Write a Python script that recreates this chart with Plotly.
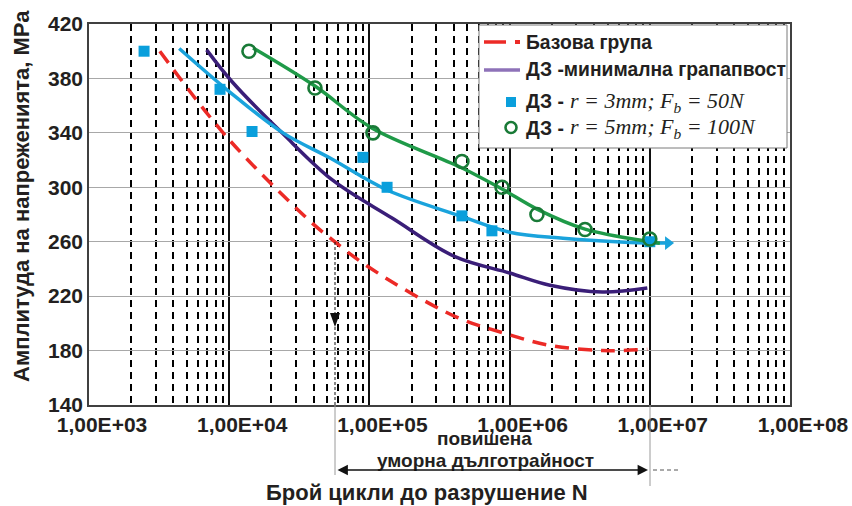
import plotly.graph_objects as go

# ---------------- data ----------------
x_tick_vals = [1e3, 1e4, 1e5, 1e6, 1e7, 1e8]
x_tick_text = ["1,00E+03", "1,00E+04", "1,00E+05", "1,00E+06", "1,00E+07", "1,00E+08"]
y_tick_vals = [140, 180, 220, 260, 300, 340, 380, 420]

# Базова група (red dashed curve)
base_N = [3200, 9600, 36000, 52000, 100000, 410000, 900000, 1.9e6, 4.6e6, 9.6e6]
base_S = [400, 337, 277, 263, 241, 205, 193, 184, 180, 181]

# ДЗ - минимална грапавост (purple curve)
min_N = [6900, 10600, 23800, 55000, 147000, 408000, 1.0e6, 1.94e6, 4.6e6, 9.6e6]
min_S = [401, 377, 340, 305, 277, 249, 237, 228, 223, 226]

# ДЗ r=3mm, Fb=50N  (blue squares + fitted curve)
r3_pts_N = [2470, 8600, 14550, 89900, 133700, 457000, 748000, 1.0e7]
r3_pts_S = [400, 372, 341, 322, 300, 279, 268, 260]
r3_fit_N = [4400, 10100, 24200, 52400, 133700, 443000, 1.0e6, 2.4e6, 7.2e6, 1.35e7]
r3_fit_S = [402, 370, 340, 321.5, 298, 279, 267, 262.5, 259.5, 259]

# ДЗ r=5mm, Fb=100N (green circles + fitted curve)
r5_pts_N = [13830, 40900, 106000, 457000, 883000, 1.567e6, 3.45e6, 1.0e7]
r5_pts_S = [400, 373, 340, 319, 300, 280, 269, 262]
r5_fit_N = [14800, 40900, 104000, 443000, 883000, 1.567e6, 3.45e6, 1.0e7, 1.18e7]
r5_fit_S = [402.4, 374.4, 343.6, 314.9, 298.7, 284.0, 269.3, 260.0, 258.9]

# ---------------- styles ----------------
RED = "#ec2a26"
PURPLE = "#3a1e78"
PURPLE_LEG = "#8e72b8"
BLUE = "#1aa3dc"
BLUE_M = "#0a9fdc"
GREEN = "#1f9a48"
GREEN_M = "#197a37"
SANS = "Liberation Sans, Arial, sans-serif"
SERIF = "Liberation Serif, Times New Roman, serif"

W, H = 852, 506
L, R, T, B = 89, 790, 24, 405


def px(x):
    return (x - L) / (R - L)


def py(y):
    return (B - y) / (B - T)


fig = go.Figure()

fig.add_trace(go.Scatter(x=base_N, y=base_S, mode="lines", line=dict(color=RED, width=3.5, dash="14px,9px", shape="spline"), showlegend=False))
fig.add_trace(go.Scatter(x=min_N, y=min_S, mode="lines", line=dict(color=PURPLE, width=3.5, shape="spline"), showlegend=False))
fig.add_trace(go.Scatter(x=r3_fit_N, y=r3_fit_S, mode="lines", line=dict(color=BLUE, width=3.5, shape="spline"), showlegend=False))
fig.add_trace(go.Scatter(x=r3_fit_N[-1:], y=r3_fit_S[-1:], mode="markers",
                         marker=dict(symbol="triangle-right", size=12, color=BLUE), showlegend=False))
fig.add_trace(go.Scatter(x=r5_fit_N, y=r5_fit_S, mode="lines", line=dict(color=GREEN, width=3.5, shape="spline"), showlegend=False))
fig.add_trace(go.Scatter(x=r3_pts_N, y=r3_pts_S, mode="markers",
                         marker=dict(symbol="square", size=11, color=BLUE_M), showlegend=False))
fig.add_trace(go.Scatter(x=r5_pts_N, y=r5_pts_S, mode="markers",
                         marker=dict(symbol="circle-open", size=13, color=GREEN_M, line=dict(width=2.6, color=GREEN_M)),
                         showlegend=False))

minor_vals = [k * 10 ** e for e in range(3, 8) for k in range(2, 10)]

fig.update_xaxes(
    type="log", range=[3, 8], tickvals=x_tick_vals, ticktext=x_tick_text, automargin=False,
    showgrid=True, gridcolor="#111111", gridwidth=1.6,
    minor=dict(tickvals=minor_vals, showgrid=True, gridcolor="#000000", gridwidth=1.7, griddash="7px,5px", ticks=""),
    showline=True, linecolor="#404040", linewidth=1.6, mirror=True, ticks="",
    tickfont=dict(family=SANS, size=21, color="#231f20", weight="bold"),
    ticklabelshift=13, zeroline=False,
)
fig.update_yaxes(
    range=[140, 420], tickvals=y_tick_vals, showgrid=True, gridcolor="#a8a8a8", gridwidth=1.3, automargin=False,
    showline=True, linecolor="#404040", linewidth=1.6, mirror=True, ticks="",
    tickfont=dict(family=SANS, size=21, color="#231f20", weight="bold"), zeroline=False,
)

shapes = []
# legend box
shapes.append(dict(type="rect", xref="paper", yref="paper", x0=px(479), x1=px(787), y0=py(148), y1=py(25),
                   fillcolor="white", line=dict(color="#7a7a7a", width=1), layer="above"))
shapes.append(dict(type="line", xref="paper", yref="paper", x0=px(484), x1=px(506), y0=py(42), y1=py(42),
                   line=dict(color=RED, width=3.5), layer="above"))
shapes.append(dict(type="rect", xref="paper", yref="paper", x0=px(515), x1=px(520), y0=py(44), y1=py(40),
                   fillcolor=RED, line=dict(width=0), layer="above"))
shapes.append(dict(type="line", xref="paper", yref="paper", x0=px(484), x1=px(520), y0=py(70), y1=py(70),
                   line=dict(color=PURPLE_LEG, width=3.5), layer="above"))
shapes.append(dict(type="rect", xref="paper", yref="paper", x0=px(506), x1=px(516), y0=py(107), y1=py(97),
                   fillcolor=BLUE_M, line=dict(width=0), layer="above"))
shapes.append(dict(type="circle", xref="paper", yref="paper", x0=px(505.5), x1=px(516.5), y0=py(133), y1=py(122),
                   line=dict(color=GREEN_M, width=2.6), layer="above"))
# annotation lines for the "повишена уморна дълготрайност" interval
shapes.append(dict(type="line", xref="paper", yref="paper", x0=px(335), x1=px(335), y0=py(242), y1=py(405),
                   line=dict(color="#111111", width=1, dash="3px,2px"), layer="above"))
shapes.append(dict(type="path", xref="paper", yref="paper",
                   path=f"M {px(330)} {py(313)} L {px(340)} {py(313)} L {px(335)} {py(327)} Z",
                   fillcolor="#111111", line=dict(width=0), layer="above"))
shapes.append(dict(type="line", xref="paper", yref="paper", x0=px(335), x1=px(335), y0=py(405), y1=py(475),
                   line=dict(color="#9a9a9a", width=1), layer="above"))
shapes.append(dict(type="line", xref="paper", yref="paper", x0=px(650), x1=px(650), y0=py(405), y1=py(486),
                   line=dict(color="#9a9a9a", width=1), layer="above"))
shapes.append(dict(type="line", xref="paper", yref="paper", x0=px(653), x1=px(681), y0=py(470), y1=py(470),
                   line=dict(color="#555555", width=1, dash="4px,3px"), layer="above"))

annotations = []
def txt(x, y, s, size, family=SANS, bold=True, xanchor="left", italic=False, angle=0):
    annotations.append(dict(xref="paper", yref="paper", x=px(x), y=py(y), text=s, showarrow=False,
                            xanchor=xanchor, yanchor="middle", textangle=angle,
                            font=dict(family=family, size=size, color="#231f20",
                                      weight="bold" if bold else "normal",
                                      style="italic" if italic else "normal")))

txt(524, 42, "Базова група", 19.3)
txt(524, 70, "ДЗ -минимална грапапвост", 19.3)
txt(524, 102, "ДЗ -", 19.3)
txt(568, 102, "r = 3mm; F<sub>b</sub> = 50N", 22, family=SERIF, bold=False, italic=True)
txt(524, 128, "ДЗ -", 19.3)
txt(568, 128, "r = 5mm; F<sub>b</sub> = 100N", 22, family=SERIF, bold=False, italic=True)

txt(21, 196, "Амплитуда на напреженията, МРа", 22, xanchor="center", angle=-90)
txt(427, 493, "Брой цикли до разрушение N", 22, xanchor="center")
txt(484, 439, "повишена", 19, xanchor="center")
txt(485, 461, "уморна дълготрайност", 19, xanchor="center")

# double-headed arrow
annotations.append(dict(xref="paper", yref="paper", x=px(648), y=py(470), ax=-(648 - 336), ay=0,
                        text="", showarrow=True, arrowhead=2, arrowside="end+start", arrowsize=1.6,
                        arrowwidth=1.3, arrowcolor="#111111"))

fig.update_layout(
    width=W, height=H, margin=dict(l=L, r=W - R, t=T, b=H - B, autoexpand=False),
    plot_bgcolor="white", paper_bgcolor="white",
    shapes=shapes, annotations=annotations, showlegend=False,
)

fig.write_html("out.html")
